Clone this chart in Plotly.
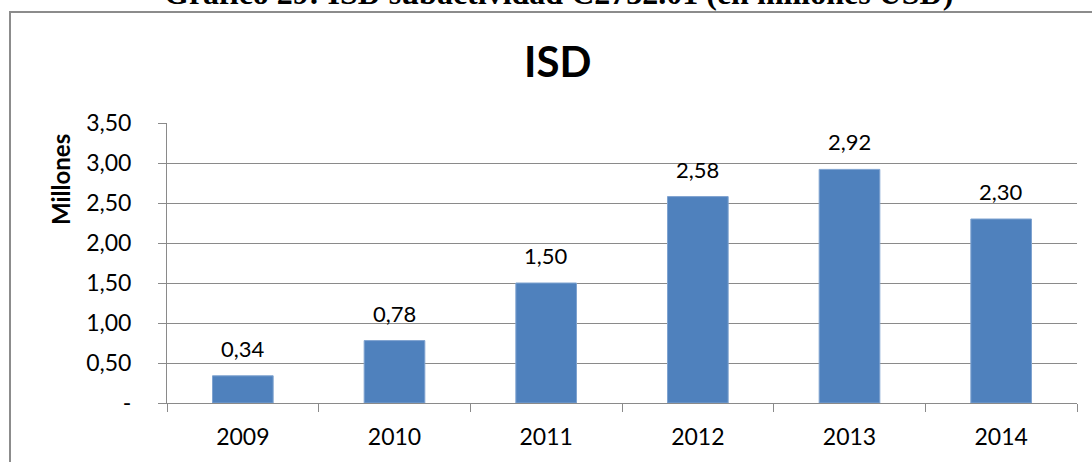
import plotly.graph_objects as go

# Investment in ISD, millions of USD
years = ["2009", "2010", "2011", "2012", "2013", "2014"]
values = [0.34, 0.78, 1.50, 2.58, 2.92, 2.30]

y_tickvals = [0, 0.5, 1.0, 1.5, 2.0, 2.5, 3.0, 3.5]
y_ticktext = ["-", "0,50", "1,00", "1,50", "2,00", "2,50", "3,00", "3,50"]

W, H = 1092, 462
L, R, T, B = 167, 15, 123, 59
PW, PH = W - L - R, H - T - B


def px_x(x):
    return (x - L) / PW


def px_y(y):
    return (H - B - y) / PH


BAR = "#4F81BD"
GRID = "#8a8a8a"
FONT = "Lato, Calibri, 'Open Sans', sans-serif"

fig = go.Figure(
    go.Bar(
        x=years,
        y=values,
        marker=dict(color=BAR, line=dict(color="#7fa3d0", width=1)),
        width=0.4,
        hoverinfo="x+y",
    )
)

# value labels above each bar (category index positions)
for i, v in enumerate(values):
    fig.add_annotation(
        x=i, y=v, xref="x", yref="y",
        text=f"{v:.2f}".replace(".", ","),
        showarrow=False, yanchor="bottom", yshift=12,
        font=dict(family=FONT, size=22, color="#000000"),
    )

# chart title
fig.add_annotation(
    x=px_x(557), y=px_y(61), xref="paper", yref="paper",
    text="<b>ISD</b>", showarrow=False, xanchor="center", yanchor="middle",
    font=dict(family=FONT, size=42, color="#000000"),
)

# document caption (partly above the page)
fig.add_annotation(
    x=px_x(558), y=px_y(13), xref="paper", yref="paper",
    text="<b>Gráfico 29: ISD subactividad C2732.01 (en millones USD)</b>",
    showarrow=False, xanchor="center", yanchor="bottom",
    font=dict(family="'Liberation Serif', 'Times New Roman', serif", size=32, color="#000000"),
)

# y-axis title
fig.add_annotation(
    x=px_x(60), y=px_y(180), xref="paper", yref="paper",
    text="<b>Millones</b>", textangle=-90, showarrow=False,
    xanchor="center", yanchor="middle",
    font=dict(family=FONT, size=24, color="#000000"),
)

# chart-area border
fig.add_shape(
    type="rect", xref="paper", yref="paper",
    x0=px_x(10), x1=px_x(1110), y0=px_y(12), y1=px_y(500),
    line=dict(color="#8c8c8c", width=2), fillcolor="rgba(0,0,0,0)", layer="below",
)

fig.update_layout(
    width=W, height=H,
    margin=dict(l=L, r=R, t=T, b=B, autoexpand=False),
    paper_bgcolor="white", plot_bgcolor="white",
    showlegend=False,
    separators=",.",
    xaxis=dict(
        type="category",
        range=[-0.5, 5.5],
        automargin=False,
        showgrid=False,
        showline=True, linecolor=GRID, linewidth=1,
        ticks="outside", tickson="boundaries", ticklen=8, tickcolor=GRID,
        ticklabelstandoff=13, tickangle=0,
        tickfont=dict(family=FONT, size=23, color="#000000"),
    ),
    yaxis=dict(
        range=[0, 3.5],
        automargin=False,
        tickvals=y_tickvals, ticktext=y_ticktext,
        showgrid=True, gridcolor=GRID, gridwidth=1,
        zeroline=False,
        showline=True, linecolor=GRID, linewidth=1,
        ticks="outside", ticklen=8, tickcolor=GRID,
        ticklabelstandoff=22,
        tickfont=dict(family=FONT, size=23, color="#000000"),
    ),
)

fig.write_html("out.html")
